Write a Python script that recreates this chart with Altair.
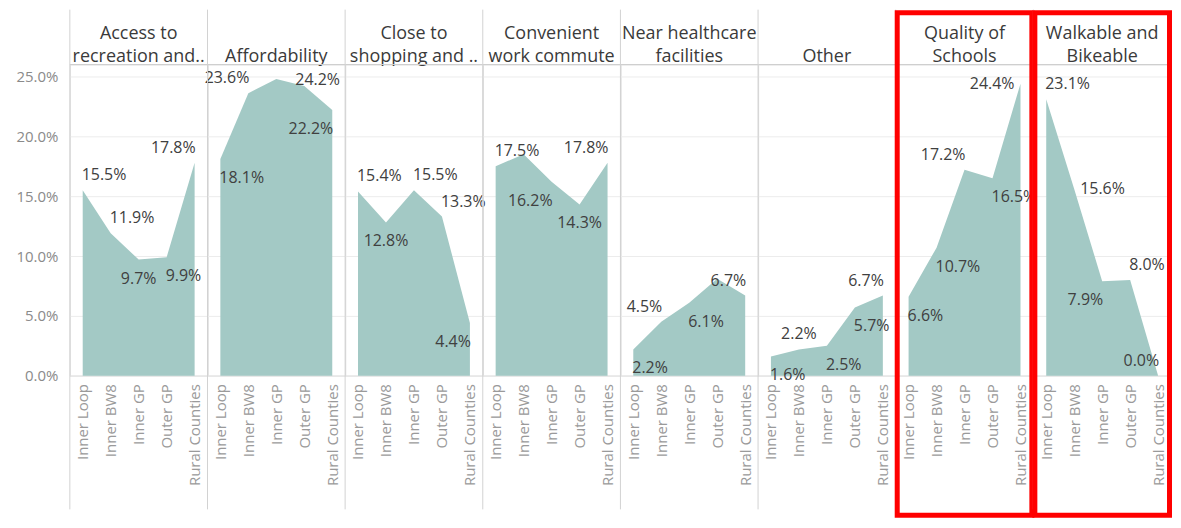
import altair as alt
import pandas as pd

# ---------------- data ----------------
CATS = ["Inner Loop", "Inner BW8", "Inner GP", "Outer GP", "Rural Counties"]

PANELS = [
    "Access to|recreation and..",
    "Affordability",
    "Close to|shopping and ..",
    "Convenient|work commute",
    "Near healthcare|facilities",
    "Other",
    "Quality of|Schools",
    "Walkable and|Bikeable",
]

access_recreation = [15.5, 11.9, 9.7, 9.9, 17.8]
affordability = [18.1, 23.6, 24.8, 24.2, 22.2]
close_shopping = [15.4, 12.8, 15.5, 13.3, 4.4]
work_commute = [17.5, 18.5, 16.2, 14.3, 17.8]
near_healthcare = [2.2, 4.5, 6.1, 8.1, 6.7]
other = [1.6, 2.2, 2.5, 5.7, 6.7]
quality_schools = [6.6, 10.7, 17.2, 16.5, 24.4]
walkable_bikeable = [23.1, 15.6, 7.9, 8.0, 0.0]

SERIES = [access_recreation, affordability, close_shopping, work_commute,
          near_healthcare, other, quality_schools, walkable_bikeable]

HIGHLIGHT = ["Quality of|Schools", "Walkable and|Bikeable"]

# label placement (a=above, s=slightly above, b=below, m=middle;
# L=text to the right, C=centred, R=text to the left; -- hidden)
LABEL_PLACE = [
    ["aL", "aL", "bC", "bL", "aR"],
    ["bL", "aR", "--", "sL", "bR"],
    ["aL", "bC", "aL", "aL", "bR"],
    ["aL", "--", "bR", "bC", "aR"],
    ["bL", "aR", "bL", "--", "aR"],
    ["bL", "aC", "bL", "bL", "aR"],
    ["bL", "bL", "aR", "bL", "mR"],
    ["aL", "mL", "bR", "aL", "aR"],
]

rows = []
for panel, vals, places in zip(PANELS, SERIES, LABEL_PLACE):
    for cat, v, p in zip(CATS, vals, places):
        rows.append({"panel": panel, "cat": cat, "value": v, "place": p})
df = pd.DataFrame(rows)

# ---------------- style ----------------
FONT = "Open Sans"
W, H = 138, 312
FILL = "#a3c9c5"
TXT = "#404040"

X = alt.X(
    "cat:N", sort=CATS,
    scale=alt.Scale(type="point", padding=0.46),
    axis=alt.Axis(title=None, labelAngle=270, labelAlign="right", labelBaseline="middle",
                  ticks=False, labelPadding=8, labelFontSize=15, labelColor="#9a9a9a",
                  labelFont=FONT, domainColor="#d0d0d0", grid=False),
)
Y = alt.Y(
    "value:Q",
    scale=alt.Scale(domain=[0, 26], nice=False, zero=True),
    axis=alt.Axis(title=None, values=[0, 5, 10, 15, 20, 25],
                  labelExpr="format(datum.value, '.1f') + '%'",
                  ticks=False, domain=False, labelPadding=12, labelFontSize=15,
                  labelColor="#8a8a8a", labelFont=FONT, gridColor="#ececec",
                  minExtent=62, maxExtent=62),
)

base = alt.Chart().transform_calculate(
    label="format(datum.value, '.1f') + '%'"
)

area = base.mark_area(color=FILL, opacity=1, interpolate="linear").encode(x=X, y=Y)


def labels(code, align, dy, dx=0):
    return base.transform_filter(alt.datum.place == code).mark_text(
        align=align, baseline="middle", dx=dx, dy=dy,
        font=FONT, fontSize=16, color=TXT
    ).encode(x=X, y=Y, text="label:N")


ABOVE, BELOW = -15, 19
text_layers = [
    labels("aL", "left", ABOVE, -1),
    labels("aC", "center", ABOVE),
    labels("aR", "right", ABOVE, 1),
    labels("sL", "left", -6, -9),
    labels("bL", "left", BELOW, -1),
    labels("bC", "center", BELOW),
    labels("bR", "right", BELOW, 1),
    labels("mL", "left", 0, 6),
    labels("mR", "right", 0, -6),
]

first = base.transform_filter(alt.datum.cat == CATS[0]).transform_calculate(
    parts="split(datum.panel, '|')"
).transform_calculate(
    line1="length(datum.parts) > 1 ? datum.parts[0] : ''",
    line2="datum.parts[length(datum.parts) - 1]",
)

# panel titles (column headers), two lines
title_style = dict(align="center", baseline="alphabetic", font=FONT, fontSize=18, color="#3a3a3a")
title1 = first.mark_text(**title_style).encode(
    text="line1:N", x=alt.value(W / 2), y=alt.value(-26)
)
title2 = first.mark_text(**title_style).encode(
    text="line2:N", x=alt.value(W / 2), y=alt.value(-3)
)

separator = first.mark_rule(color="#d2d2d2", strokeWidth=1).encode(
    x=alt.value(0), y=alt.value(-55), y2=alt.value(H + 134)
)
topline = first.mark_rule(color="#cfcfcf", strokeWidth=1).encode(
    x=alt.value(0), x2=alt.value(W), y=alt.value(0)
)
redbox = first.transform_filter(
    alt.FieldOneOfPredicate(field="panel", oneOf=HIGHLIGHT)
).mark_rect(fillOpacity=0, stroke="#ff0000", strokeWidth=5).encode(
    x=alt.value(1.5), x2=alt.value(W - 1.5), y=alt.value(-52), y2=alt.value(H + 140)
)

layered = alt.layer(area, title1, title2, topline, *text_layers, separator, redbox,
                    data=df).properties(width=W, height=H)

chart = layered.facet(
    column=alt.Column("panel:N", sort=PANELS, title=None,
                      header=alt.Header(labels=False, title=None)),
    spacing=0,
    bounds="flush",
).properties(
    padding={"left": 0, "top": 0, "right": 0, "bottom": 0}
).configure_view(stroke=None).configure(font=FONT, background="white")

chart.save("out.html", embed_options={"renderer": "svg", "actions": False})
